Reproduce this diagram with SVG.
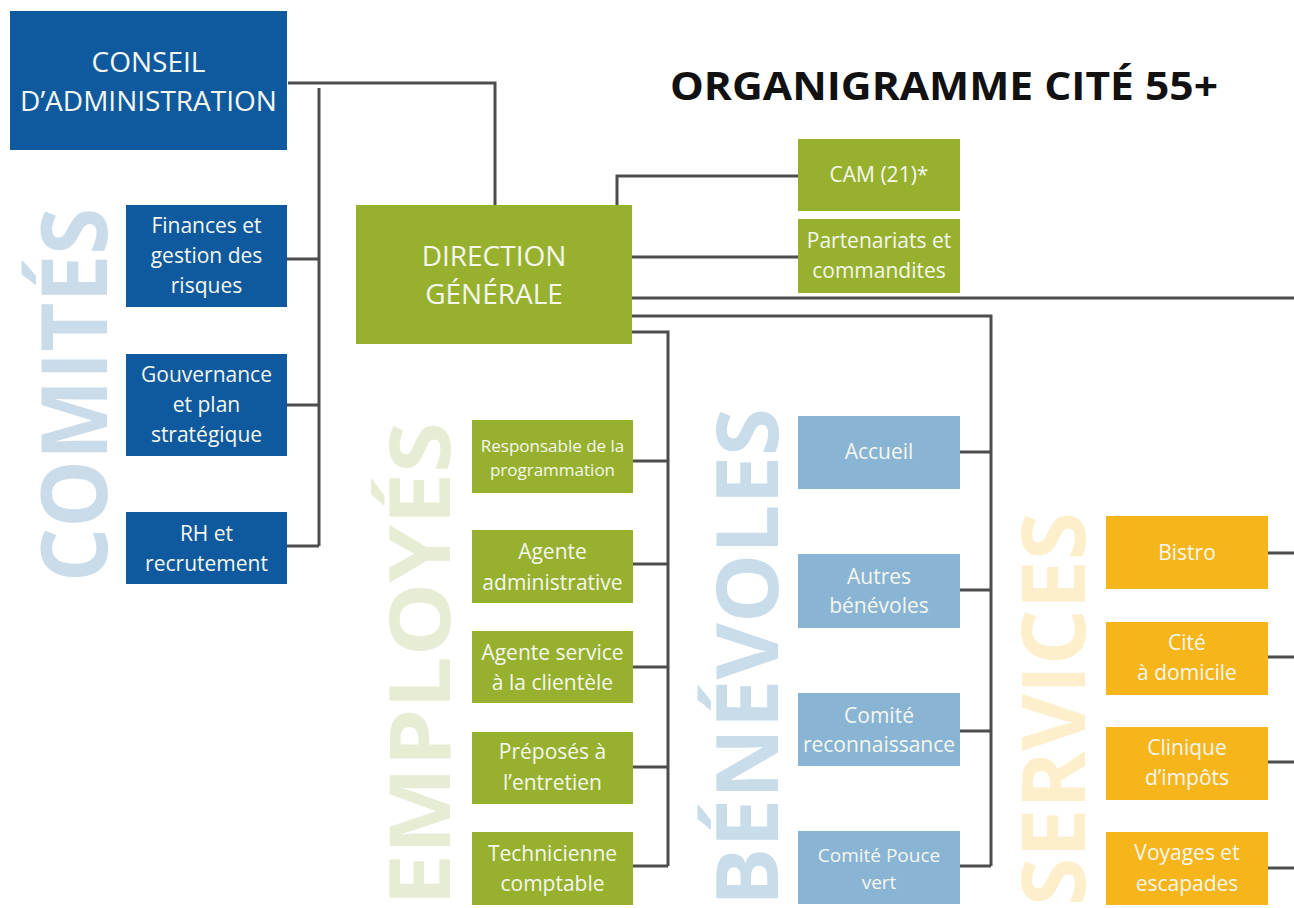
<svg xmlns="http://www.w3.org/2000/svg" width="1294" height="908" viewBox="0 0 1294 908">
<style>
.bg{fill:#ffffff}
.db{fill:#0f5a9e}
.gr{fill:#97b12f}
.lb{fill:#89b4d4}
.or{fill:#f7b51c}
.t{font-family:"Open Sans","Noto Sans","Liberation Sans",sans-serif;fill:#f4f7ee;text-anchor:middle}
.big{font-size:28px}
.sm{font-size:21px}
.xs{font-size:17px}
.wm{font-family:"Open Sans","Noto Sans","Liberation Sans",sans-serif;font-weight:700}
.conn path{fill:none;stroke:#4d4d4d;stroke-width:3}
</style>
<rect class="bg" x="0" y="0" width="1294" height="908"/>
<g id="watermarks">
<text class="wm" font-size="92" fill="#cadcea" textLength="374" lengthAdjust="spacingAndGlyphs" transform="translate(107,582) rotate(-90)">COMITÉS</text>
<text class="wm" font-size="84" fill="#e7edd5" textLength="484" lengthAdjust="spacingAndGlyphs" transform="translate(450,906) rotate(-90)">EMPLOYÉS</text>
<text class="wm" font-size="86" fill="#c9dcea" textLength="498" lengthAdjust="spacingAndGlyphs" transform="translate(778,906) rotate(-90)">BÉNÉVOLES</text>
<text class="wm" font-size="87" fill="#fdefcc" textLength="394" lengthAdjust="spacingAndGlyphs" transform="translate(1085,906) rotate(-90)">SERVICES</text>
</g>
<text id="title" x="670" y="100" font-family="'Open Sans','Noto Sans','Liberation Sans',sans-serif" font-weight="700" font-size="40" fill="#111111" textLength="548" lengthAdjust="spacingAndGlyphs">ORGANIGRAMME CITÉ 55+</text>
<g class="conn" id="connectors">
<path d="M288,83 H495 V205"/>
<path d="M319,88 V546"/>
<path d="M287,259 H319 M287,405 H319 M287,546 H319"/>
<path d="M617,205 V176 H798"/>
<path d="M632,257 H798"/>
<path d="M632,298 H1294"/>
<path d="M632,316 H991 V866"/>
<path d="M960,452 H991 M960,590 H991 M960,731 H991 M960,866 H991"/>
<path d="M632,332 H668 V866"/>
<path d="M633,461 H668 M633,564 H668 M633,667 H668 M633,767 H668 M633,866 H668"/>
<path d="M1268,553 H1294 M1268,657 H1294 M1268,762 H1294 M1268,868 H1294"/>
</g>
<g id="conseil"><rect class="db" x="10" y="11" width="277" height="139"/><text class="t big" x="148.5" y="72">CONSEIL</text><text class="t big" x="148.5" y="111">D’ADMINISTRATION</text></g>
<g id="finances"><rect class="db" x="126" y="205" width="161" height="102"/><text class="t sm" x="206.5" y="233">Finances et</text><text class="t sm" x="206.5" y="263">gestion des</text><text class="t sm" x="206.5" y="293">risques</text></g>
<g id="gouvernance"><rect class="db" x="126" y="354" width="161" height="102"/><text class="t sm" x="206.5" y="382">Gouvernance</text><text class="t sm" x="206.5" y="412">et plan</text><text class="t sm" x="206.5" y="442">stratégique</text></g>
<g id="rh"><rect class="db" x="126" y="512" width="161" height="72"/><text class="t sm" x="206.5" y="541">RH et</text><text class="t sm" x="206.5" y="571">recrutement</text></g>
<g id="direction"><rect class="gr" x="356" y="205" width="276" height="139"/><text class="t big" x="494" y="266">DIRECTION</text><text class="t big" x="494" y="304">GÉNÉRALE</text></g>
<g id="cam"><rect class="gr" x="798" y="139" width="162" height="72"/><text class="t sm" x="879" y="182">CAM (21)*</text></g>
<g id="partenariats"><rect class="gr" x="798" y="219" width="162" height="74"/><text class="t sm" x="879" y="248">Partenariats et</text><text class="t sm" x="879" y="278">commandites</text></g>
<g id="responsable"><rect class="gr" x="472" y="420" width="161" height="73"/><text class="t xs" x="552.5" y="452">Responsable de la</text><text class="t xs" x="552.5" y="476">programmation</text></g>
<g id="agente-admin"><rect class="gr" x="472" y="530" width="161" height="73"/><text class="t sm" x="552.5" y="559">Agente</text><text class="t sm" x="552.5" y="590">administrative</text></g>
<g id="agente-service"><rect class="gr" x="472" y="631" width="161" height="72"/><text class="t sm" x="552.5" y="660">Agente service</text><text class="t sm" x="552.5" y="690">à la clientèle</text></g>
<g id="preposes"><rect class="gr" x="472" y="732" width="161" height="72"/><text class="t sm" x="552.5" y="759">Préposés à</text><text class="t sm" x="552.5" y="790">l’entretien</text></g>
<g id="technicienne"><rect class="gr" x="472" y="832" width="161" height="73"/><text class="t sm" x="552.5" y="861">Technicienne</text><text class="t sm" x="552.5" y="891">comptable</text></g>
<g id="accueil"><rect class="lb" x="798" y="416" width="162" height="73"/><text class="t sm" x="879" y="459">Accueil</text></g>
<g id="autres"><rect class="lb" x="798" y="554" width="162" height="74"/><text class="t sm" x="879" y="584">Autres</text><text class="t sm" x="879" y="613">bénévoles</text></g>
<g id="reconnaissance"><rect class="lb" x="798" y="693" width="162" height="73"/><text class="t sm" x="879" y="723">Comité</text><text class="t sm" x="879" y="752">reconnaissance</text></g>
<g id="pouce-vert"><rect class="lb" x="798" y="831" width="162" height="73"/><text class="t" x="879" y="862" font-size="19">Comité Pouce</text><text class="t" x="879" y="889" font-size="19">vert</text></g>
<g id="bistro"><rect class="or" x="1106" y="516" width="162" height="73"/><text class="t sm" x="1187" y="560">Bistro</text></g>
<g id="cite-domicile"><rect class="or" x="1106" y="622" width="162" height="73"/><text class="t sm" x="1187" y="650">Cité</text><text class="t sm" x="1187" y="680">à domicile</text></g>
<g id="clinique"><rect class="or" x="1106" y="727" width="162" height="73"/><text class="t sm" x="1187" y="755">Clinique</text><text class="t sm" x="1187" y="785">d’impôts</text></g>
<g id="voyages"><rect class="or" x="1106" y="832" width="162" height="73"/><text class="t sm" x="1187" y="860">Voyages et</text><text class="t sm" x="1187" y="891">escapades</text></g>
</svg>
